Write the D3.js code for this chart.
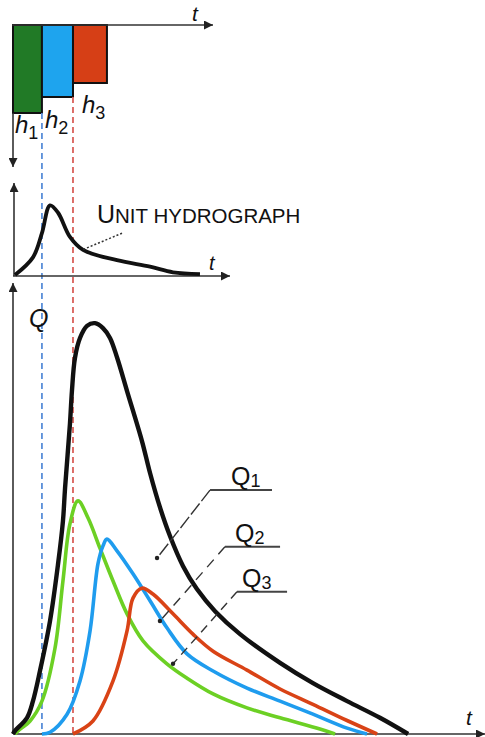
<!DOCTYPE html>
<html lang="en">
<head>
    <meta charset="UTF-8" />
    <title>Unit hydrograph superposition</title>
    <script src="https://d3js.org/d3.v7.min.js"></script>
    <style>
        body {
            margin: 0;
            background: #ffffff;
            font-family: "Liberation Sans", Arial, sans-serif;
        }
        svg { display: block; }
    </style>
</head>
<body>
<div id="chart"></div>

<script>
    // Rainfall blocks (time units, depth in mm)
    const rainStart = [0, 1.9, 3.94];
    const rainEnd = [1.9, 3.94, 6.17];
    const rainDepth = [22, 18, 14.5];
    const rainNames = ["1", "2", "3"];
    const rainColors = ["#217a26", "#1ea4ee", "#d63f16"];

    // Unit hydrograph ordinates
    const unitT = [0.13, 1.31, 1.9, 2.43, 2.96, 3.74, 4.6, 6.83, 9.0, 10.51, 12.28];
    const unitQ = [0.1, 2.0, 4.6, 7.6, 6.8, 4.2, 2.8, 1.7, 1.0, 0.4, 0.2];

    // Total runoff hydrograph
    const totalT = [0, 0.13, 0.92, 1.31, 1.77, 2.43, 2.96, 3.28, 3.42, 3.74, 3.87, 4.07, 4.4, 4.86, 5.39,
                    5.91, 6.37, 6.84, 7.49, 8.47, 9.0, 9.65, 10.31, 11.17, 12.08, 13.27, 14.91, 17.54,
                    19.7, 21.94, 24.1, 25.95];
    const totalQ = [0, 0.7, 3.6, 7.3, 14.0, 25.1, 37.8, 47.3, 54.7, 68.9, 76.2, 83.6, 88.0, 90.7, 91.3,
                    90.2, 88.0, 83.6, 76.2, 65.1, 58.0, 50.4, 44.0, 37.3, 32.2, 27.3, 22.2, 15.8,
                    11.3, 7.3, 3.6, 0];

    // Partial hydrographs Q1, Q2, Q3
    const q1T = [0.13, 0.33, 1.12, 1.9, 2.76, 3.28, 3.74, 4.27, 4.93, 5.71, 6.57, 7.49, 8.54, 10.11,
                 11.43, 13.14, 15.37, 17.54, 20.16, 21.15];
    const q1Q = [0, 0.7, 2.9, 7.3, 19.1, 34.0, 46.7, 51.8, 48.0, 41.3, 34.0, 26.7, 20.7, 15.6,
                 12.4, 8.9, 5.8, 3.6, 1.1, 0];
    const q2T = [1.9, 2.43, 3.55, 4.4, 5.06, 5.58, 5.91, 6.17, 6.83, 7.88, 9.0, 10.11, 11.43, 13.14,
                 15.37, 17.54, 19.7, 21.94, 23.25];
    const q2Q = [0, 0.4, 4.4, 11.8, 22.9, 37.8, 41.8, 43.3, 40.7, 35.6, 29.6, 23.6, 17.8, 14.0,
                 10.2, 7.3, 4.4, 1.3, 0];
    const q3T = [3.94, 5.25, 6.57, 7.49, 7.88, 8.47, 9.19, 10.51, 11.82, 13.14, 15.37, 17.54, 19.7,
                 21.94, 23.91];
    const q3Q = [0, 2.9, 11.8, 22.9, 30.2, 32.4, 31.1, 26.7, 22.2, 18.4, 14.2, 10.0, 6.6, 3.0, 0];

    const seriesColors = ["#6cd024", "#1f9cee", "#d94316"];

    // Label leaders: [pointT, pointQ, elbowT, elbowQ, endT]
    const leaderPoints = [
        [9.46, 39.1, 12.94, 54.2, 17.01],
        [9.65, 25.1, 13.92, 41.6, 17.54],
        [10.51, 15.6, 14.71, 31.6, 18.0]
    ];
    const leaderNames = ["1", "2", "3"];

    const width = 485, height = 737;

    const svg = d3.select("#chart").append("svg")
        .attr("width", width)
        .attr("height", height);

    // Scales
    const xT = d3.scaleLinear().domain([0, 31]).range([13, 485]);
    const yP = d3.scaleLinear().domain([0, 35.5]).range([25, 167]);
    const yU = d3.scaleLinear().domain([0, 10]).range([276, 183]);
    const yQ = d3.scaleLinear().domain([0, 100]).range([734, 284]);

    // Arrowhead
    svg.append("defs").append("marker")
        .attr("id", "arrow")
        .attr("viewBox", "0 0 10 10")
        .attr("refX", 10).attr("refY", 5)
        .attr("markerWidth", 11).attr("markerHeight", 9)
        .attr("markerUnits", "userSpaceOnUse")
        .attr("orient", "auto")
        .append("path")
        .attr("d", "M0,0 L10,5 L0,10 Z")
        .attr("fill", "#222");

    const axisColor = "#333";

    function arrowLine(x1, y1, x2, y2) {
        svg.append("line")
            .attr("x1", x1).attr("y1", y1)
            .attr("x2", x2).attr("y2", y2)
            .attr("stroke", axisColor)
            .attr("stroke-width", 1.6)
            .attr("marker-end", "url(#arrow)");
    }

    function italicLabel(text, x, y, size) {
        svg.append("text")
            .attr("x", x).attr("y", y)
            .attr("font-size", size)
            .attr("font-style", "italic")
            .attr("fill", "#111")
            .text(text);
    }

    // ---- Top panel: rainfall blocks ----
    const rain = rainStart.map((s, i) => ({ s, e: rainEnd[i], h: rainDepth[i], name: rainNames[i], color: rainColors[i] }));

    svg.append("g").selectAll("rect").data(rain).join("rect")
        .attr("x", d => xT(d.s))
        .attr("y", yP(0))
        .attr("width", d => xT(d.e) - xT(d.s))
        .attr("height", d => yP(d.h) - yP(0))
        .attr("fill", d => d.color)
        .attr("stroke", "#111")
        .attr("stroke-width", 2);

    arrowLine(xT(0) - 1, yP(0), 213, yP(0));
    arrowLine(xT(0), yP(rainDepth[0]), xT(0), yP(35.5));
    italicLabel("t", 192, 21, 21);

    // h labels
    const hPos = [[15, 133], [45, 128], [82, 113]];
    rain.forEach((d, i) => {
        const t = svg.append("text")
            .attr("x", hPos[i][0]).attr("y", hPos[i][1])
            .attr("font-size", 24)
            .attr("fill", "#111");
        t.append("tspan").attr("font-style", "italic").text("h");
        t.append("tspan").attr("font-size", 18).attr("dy", 6).text(d.name);
    });

    // ---- Dashed guide lines at end of blocks ----
    const guides = [
        { t: rainEnd[0], top: rainDepth[0], color: "#5a8fd9" },
        { t: rainEnd[1], top: rainDepth[1], color: "#d9605a" }
    ];
    svg.append("g").selectAll("line").data(guides).join("line")
        .attr("x1", d => xT(d.t)).attr("x2", d => xT(d.t))
        .attr("y1", d => yP(d.top)).attr("y2", yQ(0))
        .attr("stroke", d => d.color)
        .attr("stroke-width", 1.8)
        .attr("stroke-dasharray", "6,4");

    // ---- Middle panel: unit hydrograph ----
    arrowLine(xT(0), yU(0), 230, yU(0));
    arrowLine(xT(0) + 1, yU(0), xT(0) + 1, yU(10));
    italicLabel("t", 209, 270, 20);

    const unitLine = d3.line()
        .x(d => xT(d[0]))
        .y(d => yU(d[1]))
        .curve(d3.curveCatmullRom.alpha(0.5));

    svg.append("path")
        .datum(unitT.map((t, i) => [t, unitQ[i]]))
        .attr("d", unitLine)
        .attr("fill", "none")
        .attr("stroke", "#111")
        .attr("stroke-width", 3.8)
        .attr("stroke-linejoin", "round");

    svg.append("line")
        .attr("x1", xT(7.16)).attr("y1", yU(4.6))
        .attr("x2", xT(4.53)).attr("y2", yU(2.8))
        .attr("stroke", "#333")
        .attr("stroke-width", 1.5)
        .attr("stroke-dasharray", "2,2");

    const uh = svg.append("text")
        .attr("x", 97).attr("y", 223)
        .attr("fill", "#111")
        .attr("font-size", 25);
    uh.append("tspan").text("U");
    uh.append("tspan").attr("font-size", 20.5).text("NIT HYDROGRAPH");

    // ---- Bottom panel: hydrographs ----
    arrowLine(xT(0), yQ(0), 485, yQ(0));
    arrowLine(xT(0), yQ(0), xT(0), yQ(100) - 1);
    italicLabel("t", 466, 725, 21);
    italicLabel("Q", 29, 327, 25);

    const qLine = d3.line()
        .x(d => xT(d[0]))
        .y(d => yQ(d[1]))
        .curve(d3.curveCatmullRom.alpha(0.5));

    const partial = [[q1T, q1Q], [q2T, q2Q], [q3T, q3Q]];
    partial.forEach(([ts, qs], i) => {
        svg.append("path")
            .datum(ts.map((t, j) => [t, qs[j]]))
            .attr("d", qLine)
            .attr("fill", "none")
            .attr("stroke", seriesColors[i])
            .attr("stroke-width", 3.6)
            .attr("stroke-linejoin", "round");
    });

    svg.append("path")
        .datum(totalT.map((t, i) => [t, totalQ[i]]))
        .attr("d", qLine)
        .attr("fill", "none")
        .attr("stroke", "#111")
        .attr("stroke-width", 4.4)
        .attr("stroke-linejoin", "round");

    // Q1..Q3 labels with leaders
    const leaderDash = ["14,3", "10,7", "9,6"];
    leaderPoints.forEach((p, i) => {
        const [pt, pq, et, eq, endT] = p;
        svg.append("line")
            .attr("x1", xT(et)).attr("y1", yQ(eq))
            .attr("x2", xT(pt)).attr("y2", yQ(pq))
            .attr("stroke", "#333")
            .attr("stroke-width", 1.4)
            .attr("stroke-dasharray", leaderDash[i]);
        svg.append("circle")
            .attr("cx", xT(pt)).attr("cy", yQ(pq))
            .attr("r", 2.2)
            .attr("fill", "#222");
        svg.append("line")
            .attr("x1", xT(et)).attr("y1", yQ(eq))
            .attr("x2", xT(endT)).attr("y2", yQ(eq))
            .attr("stroke", "#444")
            .attr("stroke-width", 2);
        const lx = xT(et) + (i === 0 ? 21 : i === 1 ? 10 : 5);
        const lbl = svg.append("text")
            .attr("x", lx).attr("y", yQ(eq) - 5)
            .attr("font-size", 25)
            .attr("fill", "#111");
        lbl.append("tspan").text("Q");
        lbl.append("tspan").attr("font-size", 18).attr("dy", 2).text(leaderNames[i]);
    });
</script>
</body>
</html>
